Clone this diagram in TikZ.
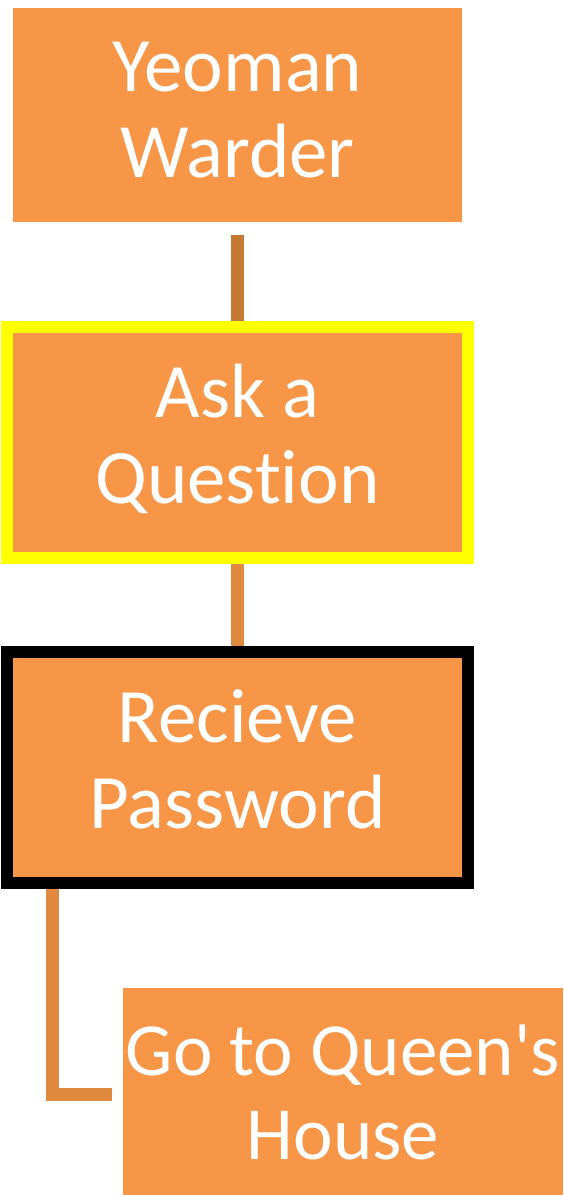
\documentclass[tikz,border=0pt]{standalone}
\usepackage{fontspec}
\setmainfont{Carlito}[Ligatures=NoCommon]
% the mono family carries no tex-text mapping, so its apostrophe stays straight
\setmonofont{Carlito}
\newcommand{\straightquote}{{\ttfamily\char39}}
\definecolor{boxfill}{RGB}{247,150,70}
\definecolor{linkdark}{RGB}{196,120,52}
\definecolor{linklight}{RGB}{224,138,64}
\definecolor{hilite}{RGB}{255,255,0}
\begin{document}
\begin{tikzpicture}[x=1pt,y=1pt,
  stepbox/.style={fill=boxfill, text=white, inner sep=0pt, align=center,
    text depth=10pt, font=\fontsize{77}{86}\selectfont},
  plainbox/.style={stepbox, minimum width=449pt, minimum height=214pt},
  framedbox/.style={stepbox, text depth=17pt, line width=12pt,
    minimum width=461pt, minimum height=231pt},
  link/.style={line width=13pt}]
\useasboundingbox (0,0) rectangle (563,-1195);

\node[plainbox] (warder) at (237.5,-115) {Yeoman\\Warder};
\node[framedbox, draw=hilite] (ask) at (237.5,-442.5) {Ask a\\Question};
\node[framedbox, draw=black] (recv) at (237.5,-767.5) {Recieve\\Password};
\node[stepbox, font=\fontsize{75}{84}\selectfont, minimum width=440pt, minimum height=218pt]
  (house) at (343,-1097) {Go to Queen\straightquote s\\House};

\draw[link, linkdark] ([yshift=-13pt]warder.south) -- (ask.north);
\draw[link, linklight] (ask.south) -- (recv.north);
\draw[link, linklight] ([xshift=51.5pt]recv.south west) |- ([xshift=-11pt,yshift=3pt]house.west);
\end{tikzpicture}
\end{document}
